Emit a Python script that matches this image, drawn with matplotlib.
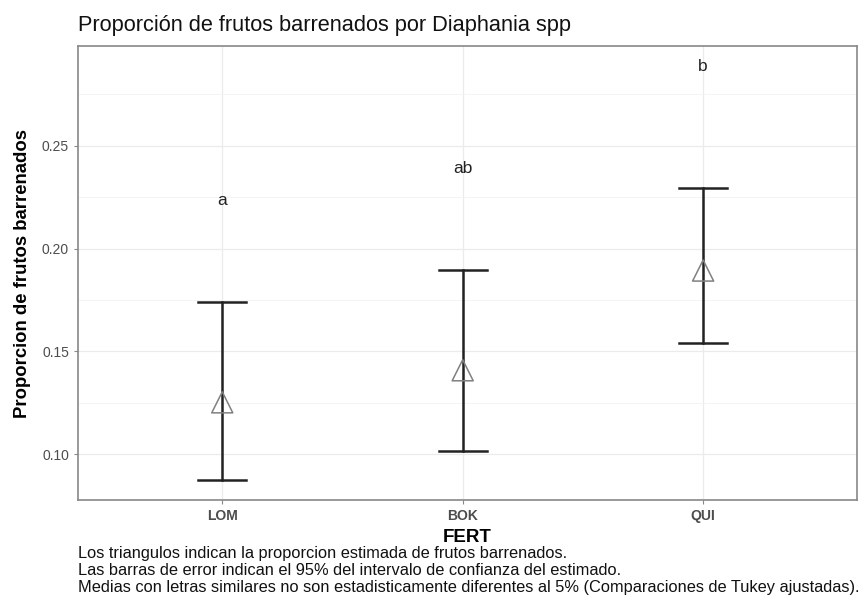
import matplotlib
matplotlib.use("Agg")
import matplotlib.pyplot as plt
from matplotlib.ticker import MultipleLocator

plt.rcParams["font.family"] = ["Liberation Sans", "DejaVu Sans"]

# data
fert = ["LOM", "BOK", "QUI"]
prop = [0.1252, 0.1408, 0.1893]
lower = [0.0874, 0.1015, 0.1539]
upper = [0.1738, 0.1898, 0.2296]
letters = ["a", "ab", "b"]
letter_y = [0.2233, 0.2389, 0.2883]

caption = ("Los triangulos indican la proporcion estimada de frutos barrenados.\n"
           "Las barras de error indican el 95% del intervalo de confianza del estimado.\n"
           "Medias con letras similares no son estadisticamente diferentes al 5% "
           "(Comparaciones de Tukey ajustadas).")

fig = plt.figure(figsize=(8.64, 6.04), dpi=100)
ax = fig.add_axes([78 / 864, 1 - 500 / 604, (857 - 78) / 864, (500 - 46) / 604])

x = list(range(1, len(fert) + 1))
for xi, lo, hi in zip(x, lower, upper):
    ax.plot([xi, xi], [lo, hi], color="#222222", lw=1.8, zorder=3)
    ax.plot([xi - 0.1, xi + 0.1], [lo, lo], color="#222222", lw=1.8, zorder=3)
    ax.plot([xi - 0.1, xi + 0.1], [hi, hi], color="#222222", lw=1.8, zorder=3)

ax.scatter(x, prop, marker="^", s=230, facecolors="none", edgecolors="#808080",
           linewidths=1.1, zorder=4)

for xi, lab, ly in zip(x, letters, letter_y):
    ax.text(xi, ly, lab, ha="center", va="center", fontsize=12.5, color="#222222")

ax.set_xlim(0.4, 3.64)
ax.set_ylim(0.0777, 0.2985)
ax.set_xticks(x)
ax.set_xticklabels(fert, fontweight="bold")
ax.yaxis.set_major_locator(MultipleLocator(0.05))
ax.yaxis.set_minor_locator(MultipleLocator(0.025))
ax.yaxis.set_major_formatter(matplotlib.ticker.FormatStrFormatter("%.2f"))

ax.grid(which="major", color="#ebebeb", lw=0.9)
ax.grid(which="minor", axis="y", color="#f3f3f3", lw=0.6)
ax.set_axisbelow(True)
for s in ax.spines.values():
    s.set_color("#888888")
    s.set_linewidth(1.2)
ax.tick_params(which="major", length=3, color="#888888", labelcolor="#4d4d4d",
               labelsize=10)
ax.tick_params(which="minor", length=0)

ax.set_xlabel("FERT", fontsize=13.5, fontweight="bold", labelpad=4)
ax.set_ylabel("Proporcion de frutos barrenados", fontsize=13.3, fontweight="bold",
              labelpad=8)

fig.text(78 / 864, 1 - 25 / 604, "Proporción de frutos barrenados por Diaphania spp",
         fontsize=15.7, ha="left", va="center", color="#111111")
fig.text(78 / 864, 1 - 546 / 604, caption, fontsize=11.8, ha="left", va="top",
         linespacing=1.17, color="#111111")

fig.savefig("out.png", dpi=100)
